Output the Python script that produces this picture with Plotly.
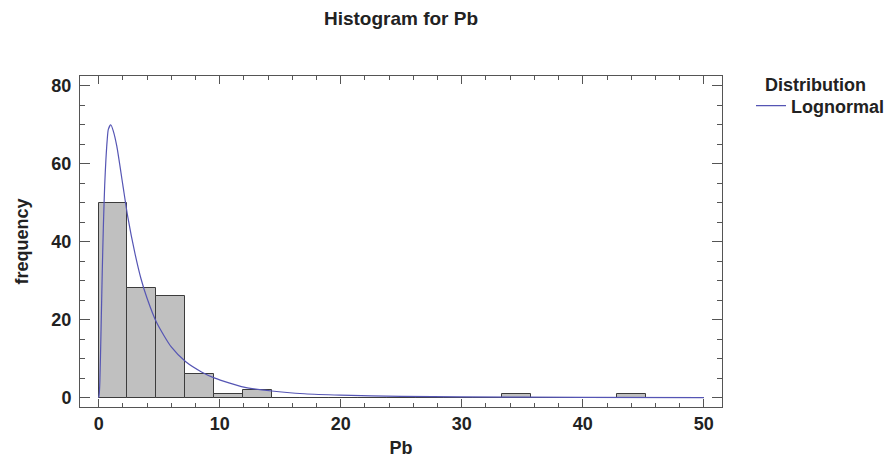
import plotly.graph_objects as go

# ---- data ----
bin_width = 50 / 21
counts = [50, 28, 26, 6, 1, 2, 0, 0, 0, 0, 0, 0, 0, 0, 1, 0, 0, 0, 1, 0, 0]

curve_x = [0.0, 0.05, 0.1, 0.2, 0.3, 0.4, 0.5, 0.6, 0.7, 0.8, 1.0, 1.2, 1.5, 2.0,
           2.4, 3.0, 3.5, 4.0, 4.8, 6.0, 7.2, 8.5, 9.6, 12.0, 14.3, 17.0, 20.0,
           25.0, 30.0, 40.0, 50.0]
curve_y = [0.0, 1.0, 4.0, 17.5, 32.5, 45.0, 54.5, 61.0, 65.8, 68.8, 70.0, 68.5, 64.5, 54.5,
           46.5, 37.0, 30.5, 25.5, 19.2, 13.0, 9.2, 6.6, 5.0, 2.7, 1.7, 1.0, 0.65,
           0.33, 0.18, 0.06, 0.02]

bin_starts = [i * bin_width for i in range(len(counts))]

FONT = "Arial, Liberation Sans, sans-serif"
TXT = "#222222"

# page body has an 8px margin, so the figure is sized to fit inside the window
W, H = 888, 454
PL, PT, PW, PH = 80, 76, 642, 331  # plot box in window pixels


def px(xw):
    return (xw - PL) / PW


def py(yw):
    return (PT + PH - yw) / PH


fig = go.Figure()
fig.add_trace(go.Bar(
    x=bin_starts, y=counts, width=bin_width, offset=0,
    marker=dict(color="#c0c0c0", line=dict(color="#3c3c3c", width=1)),
    showlegend=False, hoverinfo="skip",
))
fig.add_trace(go.Scatter(
    x=curve_x, y=curve_y, mode="lines", name="Lognormal",
    line=dict(color="#5555b4", width=1.2, shape="spline", smoothing=0.6),
))

axis_common = dict(
    showline=True, linecolor="#555555", linewidth=1, mirror="ticks",
    ticks="inside", tickcolor="#555555", showgrid=False, zeroline=False,
    automargin=False,
    tickfont=dict(family=FONT, size=18, color=TXT, weight="bold"),
)

fig.update_xaxes(
    range=[-1.54, 51.5], tick0=0, dtick=10, ticklen=8,
    minor=dict(dtick=2, ticks="inside", ticklen=4, tickcolor="#555555"),
    title=dict(text="Pb", font=dict(family=FONT, size=18, color=TXT, weight="bold"), standoff=8),
    **axis_common,
)
fig.update_yaxes(
    range=[-2.4, 82.5], tick0=0, dtick=20, ticklen=10, ticklabelstandoff=4,
    minor=dict(dtick=5, ticks="inside", ticklen=5, tickcolor="#555555"),
    title=dict(text="frequency", font=dict(family=FONT, size=18, color=TXT, weight="bold"), standoff=18),
    **axis_common,
)

fig.add_annotation(
    text="Distribution", xref="paper", yref="paper",
    x=px(815), y=py(85), xanchor="center", yanchor="middle",
    showarrow=False, font=dict(family=FONT, size=18, color=TXT, weight="bold"),
)

fig.update_layout(
    width=W, height=H,
    margin=dict(l=PL - 8, r=W - (PL - 8 + PW), t=PT - 8, b=H - (PT - 8 + PH), autoexpand=False),
    plot_bgcolor="white", paper_bgcolor="white",
    bargap=0,
    title=dict(text="Histogram for Pb", x=0.5, xref="paper", xanchor="center",
               y=1 - 10 / H, yref="container", yanchor="middle", automargin=False,
               font=dict(family=FONT, size=19, color=TXT, weight="bold")),
    legend=dict(
        x=px(751), xanchor="left", y=py(106), yanchor="middle",
        font=dict(family=FONT, size=18, color=TXT, weight="bold"),
        bgcolor="rgba(0,0,0,0)", tracegroupgap=0,
    ),
)

fig.write_html("out.html")
